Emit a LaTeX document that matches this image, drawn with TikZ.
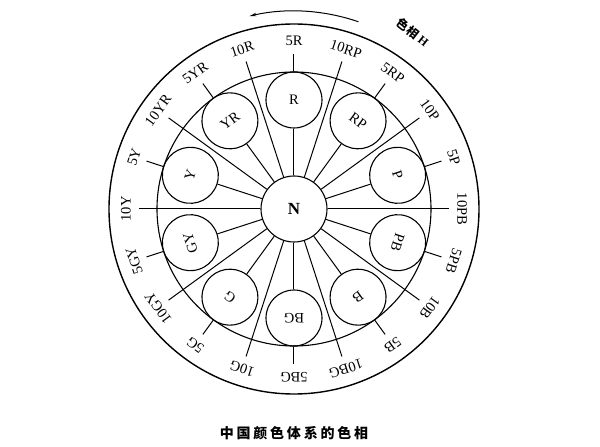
\documentclass[tikz,border=0pt]{standalone}
\usepackage{fontspec}
\setmainfont{Liberation Serif}
\newfontfamily\cjk{Noto Sans CJK SC}
\newfontfamily\cjkcap{Noto Sans CJK SC}[LetterSpace=20]
\usepackage{tikz}
\usetikzlibrary{arrows.meta}
\usetikzlibrary{calc}
\tikzset{
  huecircle/.style={circle, draw, line width=1.1pt, minimum size=56pt, inner sep=0pt, font=\fontsize{14.5}{16}\selectfont},
  huelabel/.style={inner sep=0pt, font=\fontsize{14.5}{16}\selectfont},
  spoke/.style={line width=1pt}
}

\begin{document}
\begin{tikzpicture}[x=1pt,y=1pt]
  \useasboundingbox (-294,-238) rectangle (306,209);
  \draw[line width=1.4pt] (0,0) circle (185);
  \draw[line width=1.1pt] (0,0) circle (137);
  \node[circle, draw, line width=1.1pt, minimum size=66pt, inner sep=0pt,
        font=\fontsize{17}{19}\selectfont\bfseries] (N) at (0,0) {N};
  \foreach \a/\h in {90/R,54/RP,18/P,-18/PB,-54/B,-90/BG,-126/G,-162/GY,162/Y,126/YR}
  {
    \node[huecircle, rotate=\a-90] (c\h) at (\a:109) {\h};
    \coordinate (t5\h) at (\a:155);
    \coordinate (t10\h) at (\a+18:155);
    \draw[spoke] (N) -- (c\h);
    \draw[spoke] (c\h) -- (t5\h);
    \draw[spoke] (N) -- (t10\h);
    \node[huelabel, rotate=\a-90] (l5\h) at (\a:168) {5\h};
    \node[huelabel, rotate=\a-72] (l10\h) at (\a+18:168) {10\h};
  }
  \draw[line width=1pt, -{Stealth[length=7pt,width=3.5pt]}] (71:198) arc[start angle=71, end angle=103, radius=198];
  \node[rotate=-38, font=\fontsize{12}{14}\selectfont\bfseries] (hue) at (56:213) {{\cjk 色相}\ H};
  \node[font=\fontsize{14}{16}\selectfont\bfseries\cjkcap] (cap) at (0,-224) {中国颜色体系的色相};
\end{tikzpicture}
\end{document}
